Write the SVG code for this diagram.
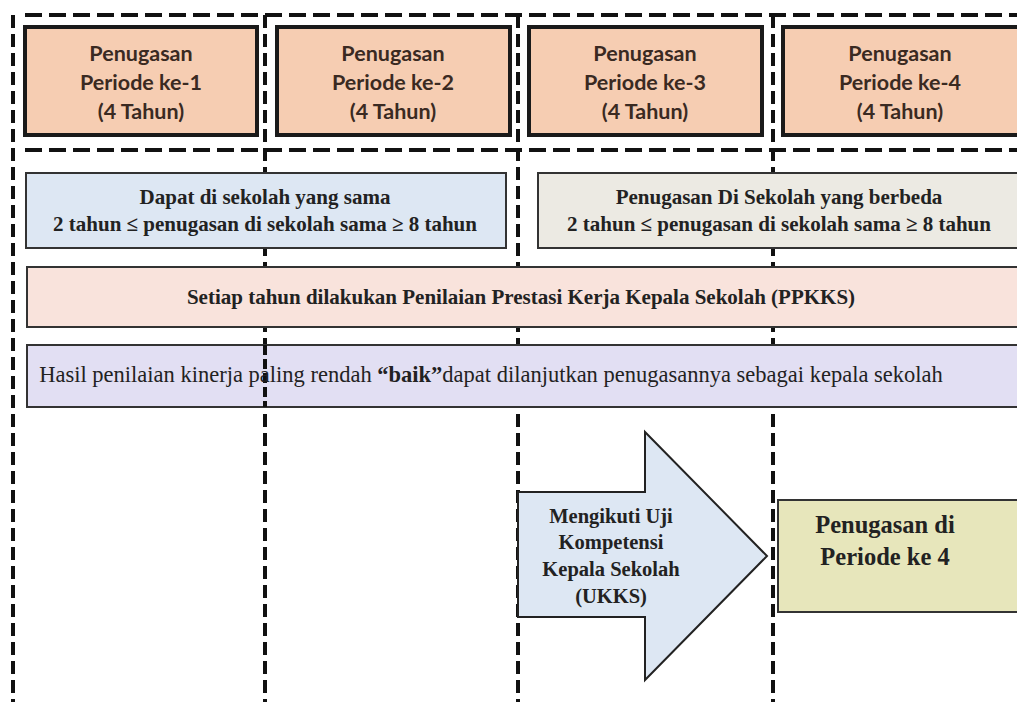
<svg xmlns="http://www.w3.org/2000/svg" width="1017" height="709" viewBox="0 0 1017 709">
<style>
.bg{fill:#ffffff}
.dash{stroke:#111;stroke-width:4;fill:none}
.dv{stroke-dasharray:13 6}
.dh{stroke-dasharray:17 7}
.period{fill:#f6cdb2;stroke:#1a1a1a;stroke-width:4}
.pt{font-family:Lato,"Open Sans",sans-serif;font-weight:bold;font-size:21.5px;fill:#3a2a22;text-anchor:middle}
.box{stroke:#333;stroke-width:2}
.st{font-family:"Liberation Serif","DejaVu Serif",serif;font-size:21px;fill:#222;text-anchor:middle}
.b{font-weight:bold}
.reg{font-size:22.5px}
.arr{font-size:20.5px}
.big{font-size:24.5px}
</style>
<rect class="bg" x="0" y="0" width="1017" height="709"/>
<g id="grid">
<line class="dash dh" x1="25" y1="15" x2="1017" y2="15"/>
<line class="dash dh" x1="25" y1="150" x2="1017" y2="150"/>
<line class="dash dv" x1="13" y1="15" x2="13" y2="702"/>
<line class="dash dv" x1="265" y1="15" x2="265" y2="702"/>
<line class="dash dv" x1="518" y1="15" x2="518" y2="702"/>
<line class="dash dv" x1="773" y1="15" x2="773" y2="702"/>
</g>
<g id="p1"><rect class="period" x="25" y="27" width="232" height="108"/>
<text class="pt" x="141" y="61">Penugasan</text><text class="pt" x="141" y="90">Periode ke-1</text><text class="pt" x="141" y="119">(4 Tahun)</text></g>
<g id="p2"><rect class="period" x="277" y="27" width="233" height="108"/>
<text class="pt" x="393" y="61">Penugasan</text><text class="pt" x="393" y="90">Periode ke-2</text><text class="pt" x="393" y="119">(4 Tahun)</text></g>
<g id="p3"><rect class="period" x="529" y="27" width="233" height="108"/>
<text class="pt" x="645" y="61">Penugasan</text><text class="pt" x="645" y="90">Periode ke-3</text><text class="pt" x="645" y="119">(4 Tahun)</text></g>
<g id="p4"><rect class="period" x="783" y="27" width="240" height="108"/>
<text class="pt" x="900" y="61">Penugasan</text><text class="pt" x="900" y="90">Periode ke-4</text><text class="pt" x="900" y="119">(4 Tahun)</text></g>
<g id="sama"><rect class="box" x="26" y="173" width="480" height="75" fill="#dde7f3"/>
<text class="st b" x="265" y="204">Dapat di sekolah yang sama</text>
<text class="st b" x="265" y="231">2 tahun ≤ penugasan di sekolah sama ≥ 8 tahun</text></g>
<g id="beda"><rect class="box" x="538" y="173" width="485" height="75" fill="#eceae3"/>
<text class="st b" x="779" y="204">Penugasan Di Sekolah yang berbeda</text>
<text class="st b" x="779" y="231">2 tahun ≤ penugasan di sekolah sama ≥ 8 tahun</text></g>
<g id="ppkks"><rect class="box" x="27" y="267" width="996" height="60" fill="#f9e3dc"/>
<text class="st b" x="521" y="304">Setiap tahun dilakukan Penilaian Prestasi Kerja Kepala Sekolah (PPKKS)</text></g>
<g id="hasil"><rect class="box" x="27" y="345" width="996" height="62" fill="#e2dff3"/>
<line class="dash" x1="265" y1="345" x2="265" y2="407" stroke-dasharray="10 4"/>
<text class="st reg" x="491" y="382">Hasil penilaian kinerja paling rendah <tspan class="b">“baik”</tspan>dapat dilanjutkan penugasannya sebagai kepala sekolah</text></g>
<g id="ukks"><polygon points="518,492 645,492 645,432 767,556 645,680 645,617 518,617" fill="#dde7f3" stroke="#222" stroke-width="2"/>
<text class="st b arr" x="611" y="523">Mengikuti Uji</text>
<text class="st b arr" x="611" y="549">Kompetensi</text>
<text class="st b arr" x="611" y="576">Kepala Sekolah</text>
<text class="st b arr" x="611" y="603">(UKKS)</text></g>
<g id="periode4"><rect class="box" x="778" y="500" width="245" height="112" fill="#e7e6bb"/>
<text class="st b big" x="885" y="533">Penugasan di</text>
<text class="st b big" x="885" y="565">Periode ke 4</text></g>
</svg>
